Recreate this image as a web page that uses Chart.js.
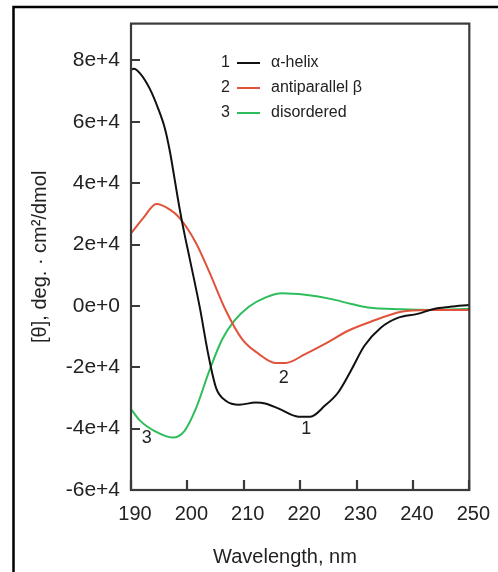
<!DOCTYPE html>
<html>
<head>
<meta charset="utf-8">
<script src="https://cdn.jsdelivr.net/npm/chart.js@4/dist/chart.umd.min.js"></script>
<style>
  html, body { margin: 0; padding: 0; background: #fff; }
  #wrap { width: 498px; height: 572px; position: relative; }
</style>
</head>
<body>
<div id="wrap"><canvas id="c" width="498" height="572"></canvas></div>
<script>
// ---- data ----
const seriesNames = ['α-helix', 'antiparallel β', 'disordered'];
const seriesNumbers = ['1', '2', '3'];

const helixWavelength = [190, 190.5, 191.6, 193.3, 194.8, 196.0, 196.9, 197.7, 198.6, 199.5, 200.4, 202.2, 203.7, 205.1, 206.8, 209.2, 212.1, 213.8, 216.2, 219.7, 221.8, 224.4, 226.7, 229.0, 231.4, 234.3, 237.3, 240.8, 243.7, 246.6, 250];
const helixValues = [77000, 77300, 75800, 70900, 64400, 57900, 50300, 41700, 31900, 23300, 15500, -500, -15800, -26800, -30900, -32200, -31500, -31800, -33500, -36100, -36100, -32500, -28300, -21100, -13000, -7100, -3900, -2600, -1000, -300, 300];

const betaWavelength = [190, 192.2, 194.5, 196.9, 198.6, 201.5, 203.9, 206.8, 209.7, 212.7, 215.6, 217.4, 220.9, 224.4, 228.5, 232.6, 237.9, 242.5, 250];
const betaValues = [23600, 28700, 33200, 31400, 28700, 20600, 11000, -1400, -10800, -15700, -18600, -18600, -15700, -12400, -8100, -5100, -1900, -1300, -1300];

const coilWavelength = [190, 191.6, 194.2, 197.4, 199.5, 201.5, 203.9, 206.2, 208.3, 210.9, 213.8, 216.8, 220.9, 225.6, 229.1, 232.0, 237.9, 243.7, 250];
const coilValues = [-33600, -37400, -40800, -42900, -40700, -33500, -21100, -10800, -4900, -300, 2700, 4100, 3600, 2200, 600, -500, -1100, -1300, -900];

// curve number labels, placed in data coordinates [wavelength, value]
const curveLabelPos = [[221.1, -40000], [217.1, -23400], [192.8, -43200]];

const xTicks = [190, 200, 210, 220, 230, 240, 250];
const yTicks = [-60000, -40000, -20000, 0, 20000, 40000, 60000, 80000];
const xTitle = 'Wavelength, nm';
const yTitle = '[θ], deg. · cm²/dmol';

const colors = ['#111111', '#e0533a', '#2dbd5c'];

function toPoints(xs, ys) { return xs.map((x, i) => ({ x: x, y: ys[i] })); }

function sciLabel(v) {
  if (v === 0) return '0e+0';
  const e = Math.floor(Math.log10(Math.abs(v)) + 1e-9);
  const m = Math.round(v / Math.pow(10, e));
  return m + 'e+' + e;
}

const FONT = "'Liberation Sans', Arial, Helvetica, sans-serif";

const decorPlugin = {
  id: 'decor',
  beforeDraw(chart) {
    const ctx = chart.ctx;
    ctx.save();
    ctx.fillStyle = '#fff';
    ctx.fillRect(0, 0, chart.width, chart.height);
    // outer frame (top & left visible)
    ctx.strokeStyle = '#000';
    ctx.lineWidth = 2.5;
    ctx.beginPath();
    ctx.moveTo(13.5, chart.height);
    ctx.lineTo(13.5, 7);
    ctx.lineTo(chart.width, 7);
    ctx.stroke();
    ctx.restore();
  },
  afterDraw(chart) {
    const ctx = chart.ctx;
    const a = chart.chartArea;
    const xs = chart.scales.x, ys = chart.scales.y;
    ctx.save();
    // plot frame
    ctx.strokeStyle = '#3a3a3a';
    ctx.lineWidth = 2.2;
    ctx.strokeRect(a.left, a.top, a.right - a.left, a.bottom - a.top);
    // inward tick marks
    ctx.beginPath();
    xs.ticks.forEach(t => {
      const px = Math.round(xs.getPixelForValue(t.value));
      ctx.moveTo(px, a.bottom);
      ctx.lineTo(px, a.bottom - 10);
    });
    ys.ticks.forEach(t => {
      const py = Math.round(ys.getPixelForValue(t.value));
      ctx.moveTo(a.left, py);
      ctx.lineTo(a.left + 9, py);
    });
    ctx.stroke();
    // x axis title
    ctx.fillStyle = '#222';
    ctx.font = '20px ' + FONT;
    ctx.textAlign = 'center';
    ctx.textBaseline = 'alphabetic';
    ctx.fillText(xTitle, 285, 563);
    // legend
    ctx.font = '16px ' + FONT;
    ctx.textBaseline = 'middle';
    const rows = [63, 88, 113];
    seriesNames.forEach((name, i) => {
      ctx.fillStyle = '#222';
      ctx.textAlign = 'left';
      ctx.fillText(seriesNumbers[i], 221, rows[i]);
      ctx.strokeStyle = colors[i];
      ctx.lineWidth = 2;
      ctx.beginPath();
      ctx.moveTo(237, rows[i]);
      ctx.lineTo(260, rows[i]);
      ctx.stroke();
      ctx.fillStyle = '#222';
      ctx.fillText(name, 271, rows[i]);
    });
    // curve number labels
    ctx.font = '18px ' + FONT;
    ctx.textAlign = 'center';
    ctx.fillStyle = '#222';
    curveLabelPos.forEach((p, i) => {
      ctx.fillText(seriesNumbers[i], xs.getPixelForValue(p[0]), ys.getPixelForValue(p[1]));
    });
    ctx.restore();
  }
};

new Chart(document.getElementById('c'), {
  type: 'line',
  data: {
    datasets: [
      { label: seriesNames[0], data: toPoints(helixWavelength, helixValues), borderColor: colors[0] },
      { label: seriesNames[1], data: toPoints(betaWavelength, betaValues), borderColor: colors[1] },
      { label: seriesNames[2], data: toPoints(coilWavelength, coilValues), borderColor: colors[2] }
    ].map(d => Object.assign(d, { borderWidth: 2, pointRadius: 0, fill: false, cubicInterpolationMode: 'monotone' }))
  },
  options: {
    responsive: false,
    animation: false,
    devicePixelRatio: 1,
    layout: { padding: { left: 0, top: 22, right: 26, bottom: 0 } },
    plugins: { legend: { display: false }, tooltip: { enabled: false } },
    scales: {
      x: {
        type: 'linear',
        min: 190, max: 250,
        afterFit(s) { s.height = 82; },
        afterBuildTicks(s) { s.ticks = xTicks.map(v => ({ value: v })); },
        grid: { display: false, drawTicks: false },
        border: { display: false },
        ticks: { padding: 12, labelOffset: 4, color: '#222', font: { size: 20, family: FONT }, maxRotation: 0, autoSkip: false },
        title: { display: false }
      },
      y: {
        type: 'linear',
        min: -60000, max: 92000,
        afterFit(s) { s.width = 131; },
        afterBuildTicks(s) { s.ticks = yTicks.map(v => ({ value: v })); },
        grid: { display: false, drawTicks: false },
        border: { display: false },
        ticks: { padding: 11, color: '#222', font: { size: 21, family: FONT }, callback: v => sciLabel(v), autoSkip: false },
        title: { display: true, text: yTitle, color: '#222', font: { size: 20, family: FONT }, padding: { top: 28, bottom: 0 } }
      }
    }
  },
  plugins: [decorPlugin]
});
</script>
</body>
</html>
